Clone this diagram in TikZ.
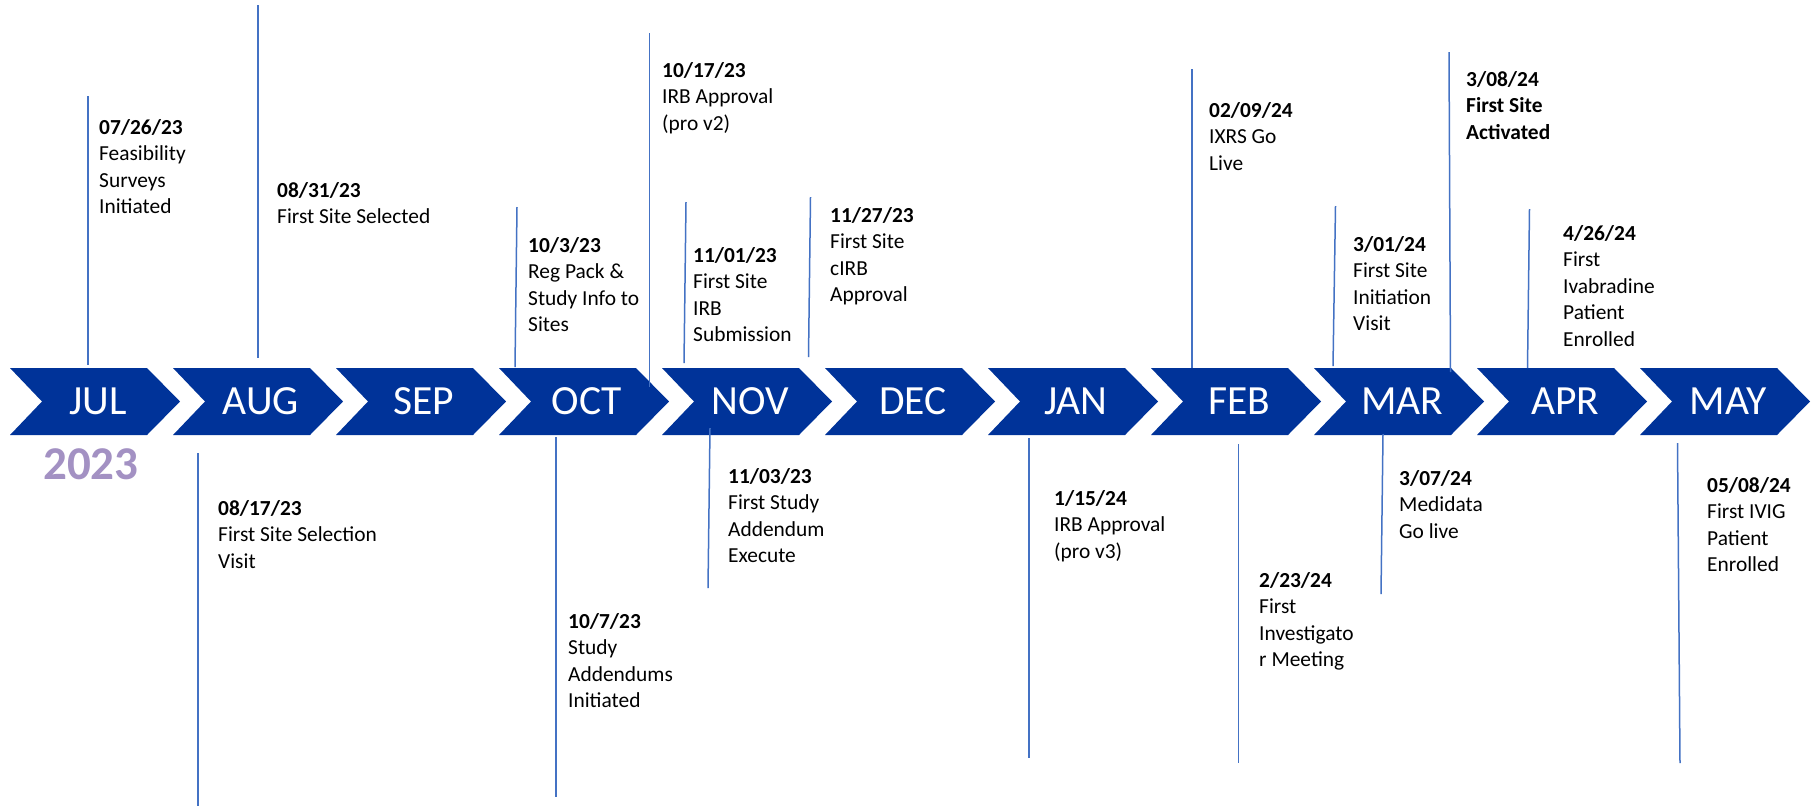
\documentclass[tikz,border=0pt]{standalone}
\usepackage{fontspec}
\setmainfont{Carlito}
\definecolor{chevblue}{HTML}{003399}
\definecolor{stemblue}{HTML}{4472C4}
\definecolor{yearpurple}{HTML}{A391C3}
\newcommand{\evt}[2]{\begin{tabular}[t]{@{}l@{}}\textbf{#1}\\#2\end{tabular}}
\begin{document}
\begin{tikzpicture}[x=1pt,y=-1pt,
  chev/.style={fill=chevblue},
  month/.style={anchor=base,text=white,inner sep=0pt,font=\fontsize{41.5}{48}\selectfont},
  stem/.style={draw=stemblue,line width=1.5pt},
  note/.style={anchor=base west,inner sep=0pt,font=\fontsize{21.4}{26.5}\selectfont},
  year/.style={anchor=base west,inner sep=0pt,text=yearpurple,font=\fontsize{47}{52}\selectfont\bfseries},
]
\useasboundingbox (0,0) rectangle (1818,807);
\fill[white] (0,0) rectangle (1818,807);

% month chevrons
\foreach \m [count=\i from 0] in {JUL,AUG,SEP,OCT,NOV,DEC,JAN,FEB,MAR,APR,MAY} {
  \pgfmathsetmacro\L{10+163*\i}
  \fill[chev] (\L,368) -- ++(137,0) -- ++(33,33.5) -- ++(-33,33.5) -- ++(-137,0) -- ++(32,-33.5) -- cycle;
  \node[month] (\m) at (\L+88,414.5) {\m};
}

\node[year] (yr) at (43,479) {2023};

% stems above the band
\draw[stem] (88,96) -- (88,365);
\draw[stem] (258,5) -- (258,358);
\draw[stem] (517,207) -- (515,367);
\draw[stem] (649.6,33) -- (649.6,387);
\draw[stem] (686,202) -- (684,363);
\draw[stem] (810.5,197) -- (808.5,357);
\draw[stem] (1192,69) -- (1192,368);
\draw[stem] (1335.5,206) -- (1333,366);
\draw[stem] (1449,52) -- (1450.5,372);
\draw[stem] (1529.5,209) -- (1527.5,368);
% stems below the band
\draw[stem] (198,453) -- (198,806);
\draw[stem] (556,437) -- (556,797);
\draw[stem] (710,428) -- (708,588);
\draw[stem] (1029,438) -- (1029,758);
\draw[stem] (1238.5,444) -- (1238.5,763);
\draw[stem] (1383,434) -- (1381,594);
\draw[stem] (1677.5,443) -- (1680,763);

% milestone labels above
\node[note] (e1) at (99,134) {\evt{07/26/23}{Feasibility\\Surveys\\Initiated}};
\node[note] (e2) at (277,197) {\evt{08/31/23}{First Site Selected}};
\node[note] (e3) at (528,252) {\evt{10/3/23}{Reg Pack \&\\Study Info to\\Sites}};
\node[note] (e4) at (662,77) {\evt{10/17/23}{IRB Approval\\(pro v2)}};
\node[note] (e5) at (693,262) {\evt{11/01/23}{First Site\\IRB\\Submission}};
\node[note] (e6) at (830,222) {\evt{11/27/23}{First Site\\cIRB\\Approval}};
\node[note] (e7) at (1209,117) {\evt{02/09/24}{IXRS Go\\Live}};
\node[note] (e8) at (1353,251) {\evt{3/01/24}{First Site\\Initiation\\Visit}};
\node[note] (e9) at (1466,86) {\evt{3/08/24}{\textbf{First Site}\\\textbf{Activated}}};
\node[note] (e10) at (1563,240) {\evt{4/26/24}{First\\Ivabradine\\Patient\\Enrolled}};
% milestone labels below
\node[note] (e11) at (218,515) {\evt{08/17/23}{First Site Selection\\Visit}};
\node[note] (e12) at (568,628) {\evt{10/7/23}{Study\\Addendums\\Initiated}};
\node[note] (e13) at (728,483) {\evt{11/03/23}{First Study\\Addendum\\Execute}};
\node[note] (e14) at (1054,505) {\evt{1/15/24}{IRB Approval\\(pro v3)}};
\node[note] (e15) at (1259,587) {\evt{2/23/24}{First\\Investigato\\r Meeting}};
\node[note] (e16) at (1399,485) {\evt{3/07/24}{Medidata\\Go live}};
\node[note] (e17) at (1707,492) {\evt{05/08/24}{First IVIG\\Patient\\Enrolled}};
\end{tikzpicture}
\end{document}
